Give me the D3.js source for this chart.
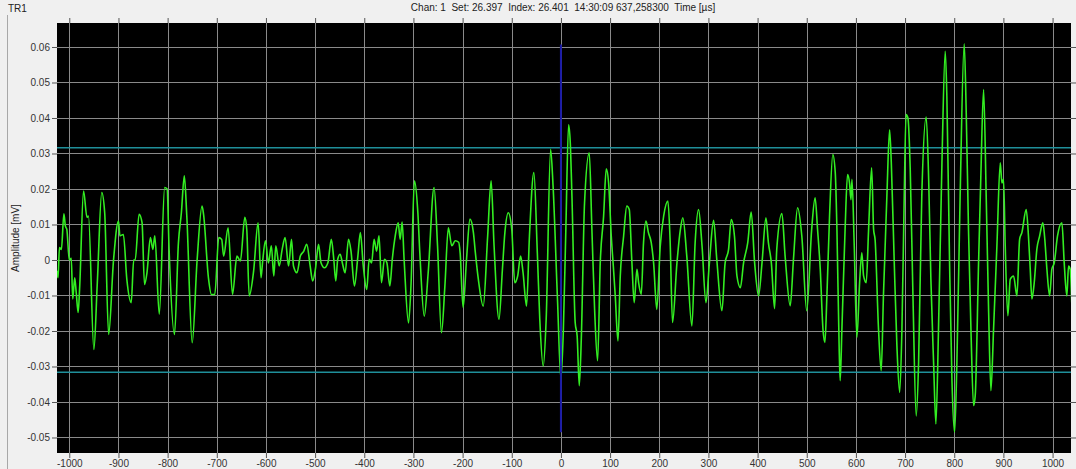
<!DOCTYPE html>
<html>
<head>
<meta charset="utf-8">
<script src="https://cdn.jsdelivr.net/npm/d3@7"></script>
<style>
  html, body { margin: 0; padding: 0; background: #f0f0f0; }
  svg { display: block; }
  text { font-family: "Liberation Sans", Arial, sans-serif; }
</style>
</head>
<body>
<svg id="chart" width="1076" height="469"></svg>
<script>
// ---------- DATA ----------
const timeUs = [
-1025,-1023,-1020,-1016,-1011,-1008,-1005,-1000,-996,-993,-989,-986,-982,-979,-971,-964,-961,-950,-943,-934,-928,-920,-910,-900,-897,-890,-883,-874,-869,-866,-858,-852,-847,-842,-835,-830,-826,-817,-806,-801,-797,-786,-778,-772,-766,-761,-750,-740,-730,-727,-717,-711,-704,-696,-690,-686,-677,-668,-659,-652,-643,-639,-634,-625,-616,-610,-607,-601,-595,-589,-584,-580,-573,-567,-561,-554,-548,-544,-537,-530,-523,-517,-510,-505,
-499,-493,-488,-481,-474,-467,-462,-458,-454,-449,-444,-439,-432,-427,-420,-413,-408,-402,-395,-390,-385,-380,-375,-370,-365,-359,-354,-348,-343,-337,-331,-327,-323,-319,-310,-305,-298,-291,-287,-278,-270,-258,-251,-243,-236,-229,-222,-215,-208,-205,-199,-192,-185,-178,-174,-168,-158,-149,-142,-136,-126,-119,-114,-107,-100,-94,-88,-82,-77,-70,-64,-55,-48,-43,-36,-30,-21,-16,-7,0,
5,10,15.6,19,22.4,29,33,37.3,41.4,48,57.6,63,68.5,74.6,80,86.8,92.2,97,102.4,107,110.5,116,120.7,127.5,134,139,144.4,149,154.6,158,163.4,168,173,178,183.7,188.5,195,202,209,217.6,222,227,236,243,248,256,266.4,273,280,287,295,302,310.5,317,327.5,334,341,346.4,353,358,365,371.5,380,387,394,402,409,417,422,428,434.6,439,449.5,456,466.4,473,481.4,490,500,510,517,
522,527.5,533,537,541,546.4,553,558,561.4,566,568,571.5,578,583,587,590,592,596.6,602,607.5,612,615.6,621,625.8,632,636,639,646,651.5,656,663,668.5,672,678,683.4,689,693.6,698.3,702,705.8,710.5,716,722.7,727.5,734,743,748,752.5,758,762.7,768,775,781.7,785,790.5,795.3,800.7,805.4,812,820.3,824.4,829,834,839.3,842.7,849.5,854,859.7,865,870,874.6,880,886.8,893.6,897,900.3,903.7,909,914,920.7,927.5,933,937.6,946.4,951,954.6,958,962.7,968,973.6,980.3,983.7,988.5,994,998.6,1003.4,1010,1019,1023.7,1029,1032.5,1036,1039
];
const amplitudeMv = [
-0.003,-0.005,0.0035,0.003,0.013,0.0096,0.0086,0.0,0.0005,-0.011,-0.005,-0.009,-0.0148,-0.008,0.0194,0.012,0.0124,-0.0252,-0.0064,0.019,0.0133,-0.021,0.0,0.011,0.0068,0.0072,-0.0054,-0.012,0.0,0.0,0.0129,0.0105,-0.0069,-0.0036,0.0063,0.003,0.0068,-0.0153,0.0204,0.02,0.003,-0.021,0.0049,0.0133,0.0237,0.0124,-0.0233,0.0,0.0152,0.013,-0.005,-0.0097,-0.0097,0.0063,0.0058,0.0011,0.0091,-0.0097,0.0011,-0.0003,0.012,0.0086,-0.0101,-0.003,0.0105,-0.005,-0.0008,0.0054,-0.0008,0.004,-0.0045,0.004,-0.0017,0.003,0.0063,-0.0017,0.0058,-0.0017,-0.0036,0.0011,0.0025,0.0044,-0.0017,-0.0059,
-0.0022,0.0044,-0.0008,-0.0022,-0.0008,0.0058,0.0002,-0.0059,0.0002,0.0016,-0.0012,-0.0036,0.0058,0.0025,-0.0073,0.0011,0.0077,-0.0017,-0.0083,0.0002,-0.0008,0.0058,0.0025,0.0068,-0.0064,0.0002,-0.0008,-0.0073,0.0002,0.0068,0.0105,0.0058,0.0107,0.0002,-0.0177,-0.0073,0.0223,0.0133,0.002,-0.0158,-0.0036,0.0204,0.004,-0.0205,-0.0073,0.0091,0.004,0.0054,0.005,0.002,-0.0134,0.0002,0.0115,0.0077,0.002,-0.0054,-0.013,0.0068,0.0223,0.004,-0.0167,-0.0026,0.0077,0.0133,0.0086,-0.0064,-0.0045,0.0011,-0.0036,-0.013,0.0068,0.0246,0.002,-0.0167,-0.0299,-0.0167,0.0312,0.0209,-0.0111,-0.0336,
-0.0195,0.0086,0.0381,0.033,0.018,-0.0176,-0.0214,-0.0354,-0.0224,0.016,0.0302,0.0086,-0.0139,-0.0284,-0.0008,0.0123,0.0257,0.0217,0.0067,-0.0026,-0.0101,-0.0228,-0.0045,0.0067,0.0152,0.0142,-0.0008,-0.012,-0.0026,-0.0064,-0.0097,0.0049,0.011,0.0077,0.0049,-0.0008,-0.0139,0.0039,0.0124,0.0166,0.0058,-0.0176,-0.0008,0.0086,0.0119,0.0011,-0.0186,0.0049,0.0142,0.004,-0.012,-0.0008,0.0112,0.0002,-0.0143,-0.0008,0.003,0.0114,0.0067,-0.0045,-0.0078,-0.0008,0.0049,0.0135,-0.0008,-0.0101,-0.0008,0.0119,0.0049,-0.0008,-0.0137,0.003,0.0131,0.0011,-0.0129,0.0002,0.0147,0.0067,-0.0143,0.0086,0.0175,
0.0086,-0.0026,-0.0195,-0.0232,-0.0101,0.0124,0.0297,0.0246,0.0086,-0.0252,-0.034,-0.0195,0.0086,0.0241,0.0217,0.017,0.0227,0.004,-0.0218,-0.0064,0.002,-0.0045,-0.0064,0.0086,0.026,0.0086,0.0058,-0.0195,-0.0312,-0.0101,0.018,0.0367,0.0274,-0.0008,-0.0242,-0.0373,-0.0195,0.018,0.041,0.04,0.0255,-0.01,-0.0439,-0.0289,0.018,0.0403,0.0227,-0.0054,-0.0289,-0.0462,-0.0195,0.0274,0.0588,0.0461,-0.0008,-0.0336,-0.0485,-0.0289,0.018,0.0609,0.0415,0.0086,-0.0195,-0.041,-0.0382,-0.0008,0.023,0.048,0.018,-0.0148,-0.0368,-0.0195,0.004,0.0274,0.0217,0.0227,0.004,-0.0157,-0.0054,-0.0045,-0.0101,0.0058,0.0077,0.0142,0.0067,-0.0026,-0.011,-0.0064,0.003,0.0067,0.0105,0.0067,-0.0026,-0.0101,-0.0026,-0.0008,0.0067,0.0105,-0.0008,-0.0101,-0.0017,-0.0026,-0.012
];
const xTickValues = [-1000,-900,-800,-700,-600,-500,-400,-300,-200,-100,0,100,200,300,400,500,600,700,800,900,1000];
const xTickLabels = ["-1000","-900","-800","-700","-600","-500","-400","-300","-200","-100","0","100","200","300","400","500","600","700","800","900","1000"];
const yTickValues = [0.06,0.05,0.04,0.03,0.02,0.01,0,-0.01,-0.02,-0.03,-0.04,-0.05];
const yTickLabels = ["0.06","0.05","0.04","0.03","0.02","0.01","0","-0.01","-0.02","-0.03","-0.04","-0.05"];
const thresholdLevels = [0.0316, -0.0316];
const cursorTime = [0];
const cursorRange = [0.0607, -0.0485];
const headerText = "Chan: 1  Set: 26.397  Index: 26.401  14:30:09 637,258300  Time [µs]";
const panelTitle = "TR1";
const yAxisTitle = "Amplitude [mV]";

// ---------- LAYOUT ----------
const W = 1076, H = 469;
const plot = { left: 57, right: 1071, top: 23, bottom: 453 };

const svg = d3.select("#chart");

svg.append("rect").attr("x", 0).attr("y", 0).attr("width", W).attr("height", H).attr("fill", "#f0f0f0");
svg.append("line").attr("x1", 7.5).attr("x2", 7.5).attr("y1", 15).attr("y2", H)
  .attr("stroke", "#a8a8a8").attr("stroke-width", 1);

const x = d3.scaleLinear().domain([-1025, 1037.5]).range([plot.left, plot.right]);
const y = d3.scaleLinear().domain([-0.05437, 0.06676]).range([plot.bottom, plot.top]);

// plot background
svg.append("rect")
  .attr("x", plot.left).attr("y", plot.top)
  .attr("width", plot.right - plot.left).attr("height", plot.bottom - plot.top)
  .attr("fill", "#000000");

svg.append("clipPath").attr("id", "clip")
  .append("rect")
  .attr("x", plot.left).attr("y", plot.top)
  .attr("width", plot.right - plot.left).attr("height", plot.bottom - plot.top);

// grid
const grid = svg.append("g").attr("clip-path", "url(#clip)");
grid.selectAll("line.vx").data(xTickValues).join("line")
  .attr("x1", d => Math.round(x(d)) + 0.5).attr("x2", d => Math.round(x(d)) + 0.5)
  .attr("y1", plot.top).attr("y2", plot.bottom)
  .attr("stroke", "#8a8a8a").attr("stroke-width", 1);
grid.selectAll("line.hy").data(yTickValues).join("line")
  .attr("y1", d => Math.round(y(d)) + 0.5).attr("y2", d => Math.round(y(d)) + 0.5)
  .attr("x1", plot.left).attr("x2", plot.right)
  .attr("stroke", "#8a8a8a").attr("stroke-width", 1);

// axes
const fmtX = d => xTickLabels[xTickValues.indexOf(d)];
const fmtY = d => yTickLabels[yTickValues.indexOf(d)];

function styleAxis(g) {
  g.select(".domain").remove();
  g.selectAll(".tick line").attr("stroke", "#555");
  g.selectAll(".tick text").attr("fill", "#333").style("font-size", "10px")
    .style("font-family", "'Liberation Sans', Arial, sans-serif");
}

svg.append("g").attr("transform", `translate(0,${plot.bottom})`)
  .call(d3.axisBottom(x).tickValues(xTickValues).tickFormat(fmtX).tickSize(5).tickPadding(2))
  .call(styleAxis);
svg.append("g").attr("transform", `translate(0,${plot.top})`)
  .call(d3.axisTop(x).tickValues(xTickValues).tickFormat("").tickSize(5))
  .call(styleAxis);
svg.append("g").attr("transform", `translate(${plot.left},0)`)
  .call(d3.axisLeft(y).tickValues(yTickValues).tickFormat(fmtY).tickSize(5).tickPadding(2))
  .call(styleAxis);
svg.append("g").attr("transform", `translate(${plot.right},0)`)
  .call(d3.axisRight(y).tickValues(yTickValues).tickFormat("").tickSize(5))
  .call(styleAxis);

// threshold lines
const marks = svg.append("g").attr("clip-path", "url(#clip)");
marks.selectAll("line.thr").data(thresholdLevels).join("line")
  .attr("x1", plot.left).attr("x2", plot.right)
  .attr("y1", d => y(d)).attr("y2", d => y(d))
  .attr("stroke", "#1f8f9a").attr("stroke-width", 1.5);

// signal
const series = timeUs.map((t, i) => ({ t, v: amplitudeMv[i] }));
const line = d3.line().x(d => x(d.t)).y(d => y(d.v)).curve(d3.curveMonotoneX);
marks.append("path").datum(series)
  .attr("d", line)
  .attr("fill", "none")
  .attr("stroke", "#33ee22")
  .attr("stroke-width", 1.6)
  .attr("stroke-linejoin", "round");

// cursor
marks.selectAll("line.cur").data(cursorTime).join("line")
  .attr("x1", d => x(d)).attr("x2", d => x(d))
  .attr("y1", y(cursorRange[0])).attr("y2", y(cursorRange[1]))
  .attr("stroke", "#1a1aa8").attr("stroke-width", 2);

// texts
svg.append("text").attr("x", 8).attr("y", 12).text(panelTitle)
  .attr("fill", "#222").style("font-size", "10px");
svg.append("text").attr("x", 563).attr("y", 11).attr("text-anchor", "middle").text(headerText)
  .attr("fill", "#222").style("font-size", "10px").attr("xml:space", "preserve").style("white-space", "pre");
svg.append("text")
  .attr("transform", `translate(19,${(plot.top + plot.bottom) / 2}) rotate(-90)`)
  .attr("text-anchor", "middle").text(yAxisTitle)
  .attr("fill", "#222").style("font-size", "10px");
</script>
</body>
</html>
